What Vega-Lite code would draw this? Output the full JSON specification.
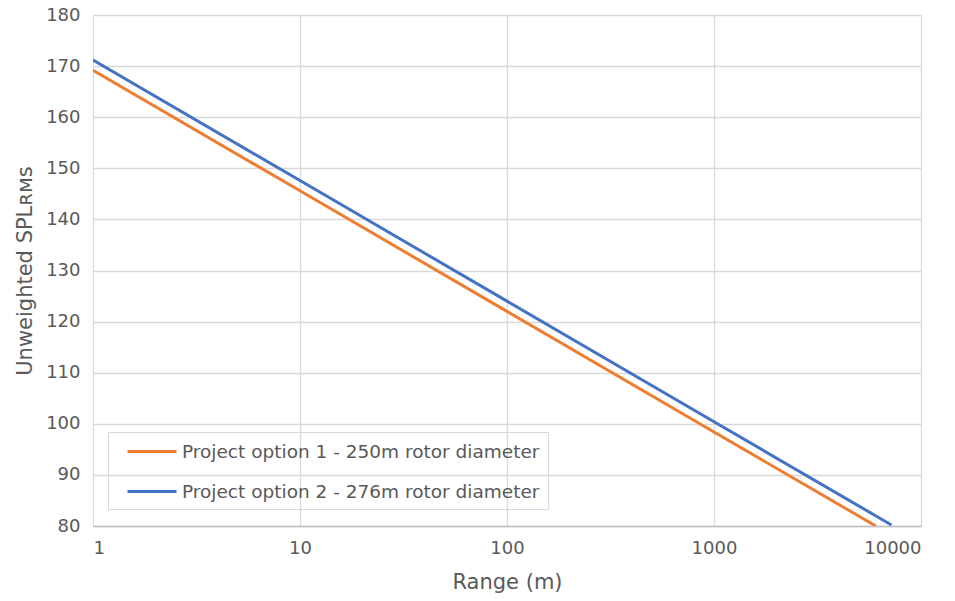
{
  "$schema": "https://vega.github.io/schema/vega-lite/v6.json",
  "width": 955,
  "height": 601,
  "autosize": {"type": "fit", "contains": "padding"},
  "padding": {"left": 14, "top": 6, "right": 34, "bottom": 9},
  "background": "white",
  "config": {
    "font": "DejaVu Sans",
    "view": {"stroke": null},
    "axis": {
      "labelColor": "#595959",
      "titleColor": "#595959",
      "labelFontSize": 18,
      "titleFontSize": 21,
      "titleFontWeight": "normal",
      "gridColor": "#d9d9d9",
      "gridWidth": 1.3,
      "domainColor": "#bfbfbf",
      "domainWidth": 1.3,
      "ticks": false
    }
  },
  "data": {
    "values": [
      {"range": 1, "spl": 169.2, "series": "Project option 1 - 250m rotor diameter"},
      {"range": 10, "spl": 145.6, "series": "Project option 1 - 250m rotor diameter"},
      {"range": 100, "spl": 122.0, "series": "Project option 1 - 250m rotor diameter"},
      {"range": 1000, "spl": 98.4, "series": "Project option 1 - 250m rotor diameter"},
      {"range": 6050, "spl": 80.0, "series": "Project option 1 - 250m rotor diameter"},
      {"range": 1, "spl": 171.2, "series": "Project option 2 - 276m rotor diameter"},
      {"range": 10, "spl": 147.6, "series": "Project option 2 - 276m rotor diameter"},
      {"range": 100, "spl": 124.0, "series": "Project option 2 - 276m rotor diameter"},
      {"range": 1000, "spl": 100.4, "series": "Project option 2 - 276m rotor diameter"},
      {"range": 7200, "spl": 80.2, "series": "Project option 2 - 276m rotor diameter"}
    ]
  },
  "mark": {"type": "line", "strokeWidth": 3, "clip": true},
  "encoding": {
    "x": {
      "field": "range",
      "type": "quantitative",
      "scale": {"type": "log", "domain": [1, 10000], "nice": false},
      "axis": {"values": [1, 10, 100, 1000, 10000], "format": "d", "title": "Range (m)", "labelPadding": 13, "titlePadding": 14, "domain": true}
    },
    "y": {
      "field": "spl",
      "type": "quantitative",
      "scale": {"domain": [80, 180], "nice": false, "zero": false},
      "axis": {"values": [80, 90, 100, 110, 120, 130, 140, 150, 160, 170, 180], "title": "Unweighted SPLʀᴍꜱ", "labelPadding": 13, "titlePadding": 10, "domain": false}
    },
    "color": {
      "field": "series",
      "type": "nominal",
      "scale": {"range": ["#ED7D31", "#4472C4"]},
      "legend": {
        "title": null,
        "orient": "none",
        "legendX": 15,
        "legendY": 417,
        "strokeColor": "#d9d9d9",
        "padding": 8,
        "symbolType": "M0.0,0H4.9",
        "symbolSize": 400,
        "symbolStrokeWidth": 3,
        "rowPadding": 19,
        "labelFontSize": 18.5,
        "labelLimit": 0,
        "labelColor": "#595959",
        "labelOffset": 43
      }
    }
  }
}
